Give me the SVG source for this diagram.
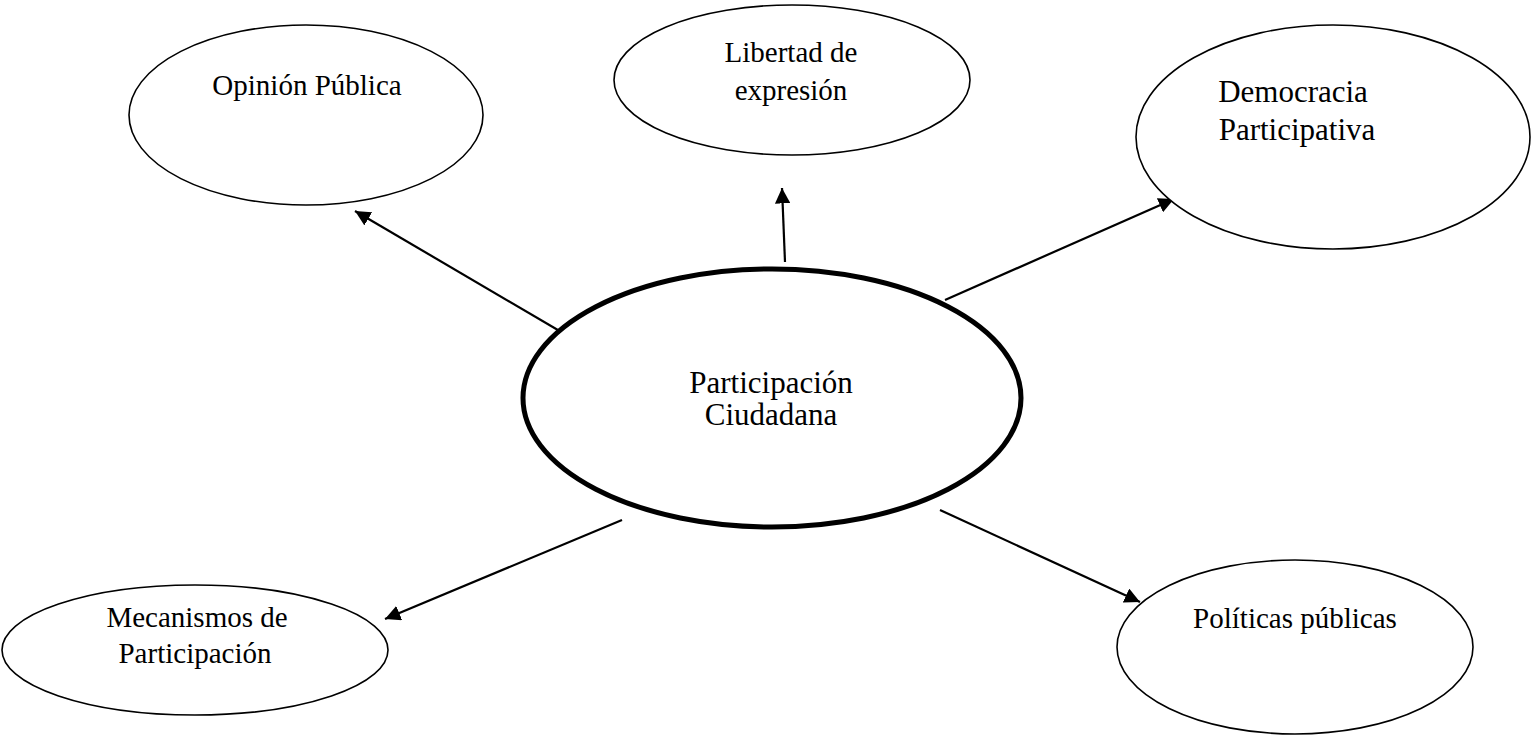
<svg xmlns="http://www.w3.org/2000/svg" width="1532" height="738" viewBox="0 0 1532 738">
<style>
.n{fill:#fff;stroke:#000;stroke-width:1.6}
.c{fill:#fff;stroke:#000;stroke-width:5}
.t{font-family:"Liberation Serif","Times New Roman",serif;font-size:29px;fill:#000;text-anchor:middle}
.tl{font-family:"Liberation Serif","Times New Roman",serif;font-size:31px;fill:#000;text-anchor:middle}
.e{stroke:#000;stroke-width:2.2;fill:none;marker-end:url(#ah)}
</style>
<defs>
<marker id="ah" viewBox="0 0 10 10" refX="10" refY="5" markerWidth="7" markerHeight="7" markerUnits="strokeWidth" orient="auto">
<path d="M0,0 L10,5 L0,10 Z" fill="#000"/>
</marker>
</defs>
<rect width="1532" height="738" fill="#fff"/>
<g id="connectors">
<line class="e" x1="563" y1="333" x2="355" y2="211"/>
<line class="e" x1="785" y1="262" x2="782" y2="188"/>
<line class="e" x1="945" y1="300" x2="1174" y2="199"/>
<line class="e" x1="622" y1="520" x2="385" y2="619"/>
<line class="e" x1="940" y1="510" x2="1140" y2="602"/>
</g>
<g id="n-opinion">
<ellipse class="n" cx="306" cy="115" rx="177" ry="90"/>
<text class="t" x="307" y="95">Opinión Pública</text>
</g>
<g id="n-libertad">
<ellipse class="n" cx="792" cy="80" rx="178" ry="75"/>
<text class="t" x="791" y="62">Libertad de</text>
<text class="t" x="791" y="100">expresión</text>
</g>
<g id="n-democracia">
<ellipse class="n" cx="1333" cy="137" rx="197" ry="112"/>
<text class="tl" x="1293" y="102">Democracia</text>
<text class="tl" x="1297" y="140">Participativa</text>
</g>
<g id="n-mecanismos">
<ellipse class="n" cx="195" cy="650" rx="193" ry="65"/>
<text class="t" x="197" y="627">Mecanismos de</text>
<text class="t" x="195" y="663">Participación</text>
</g>
<g id="n-politicas">
<ellipse class="n" cx="1295" cy="647" rx="178" ry="87"/>
<text class="t" x="1295" y="628">Políticas públicas</text>
</g>
<g id="n-central">
<ellipse class="c" cx="772" cy="398" rx="249" ry="129"/>
<text class="tl" x="771" y="393">Participación</text>
<text class="tl" x="771" y="425">Ciudadana</text>
</g>
</svg>
